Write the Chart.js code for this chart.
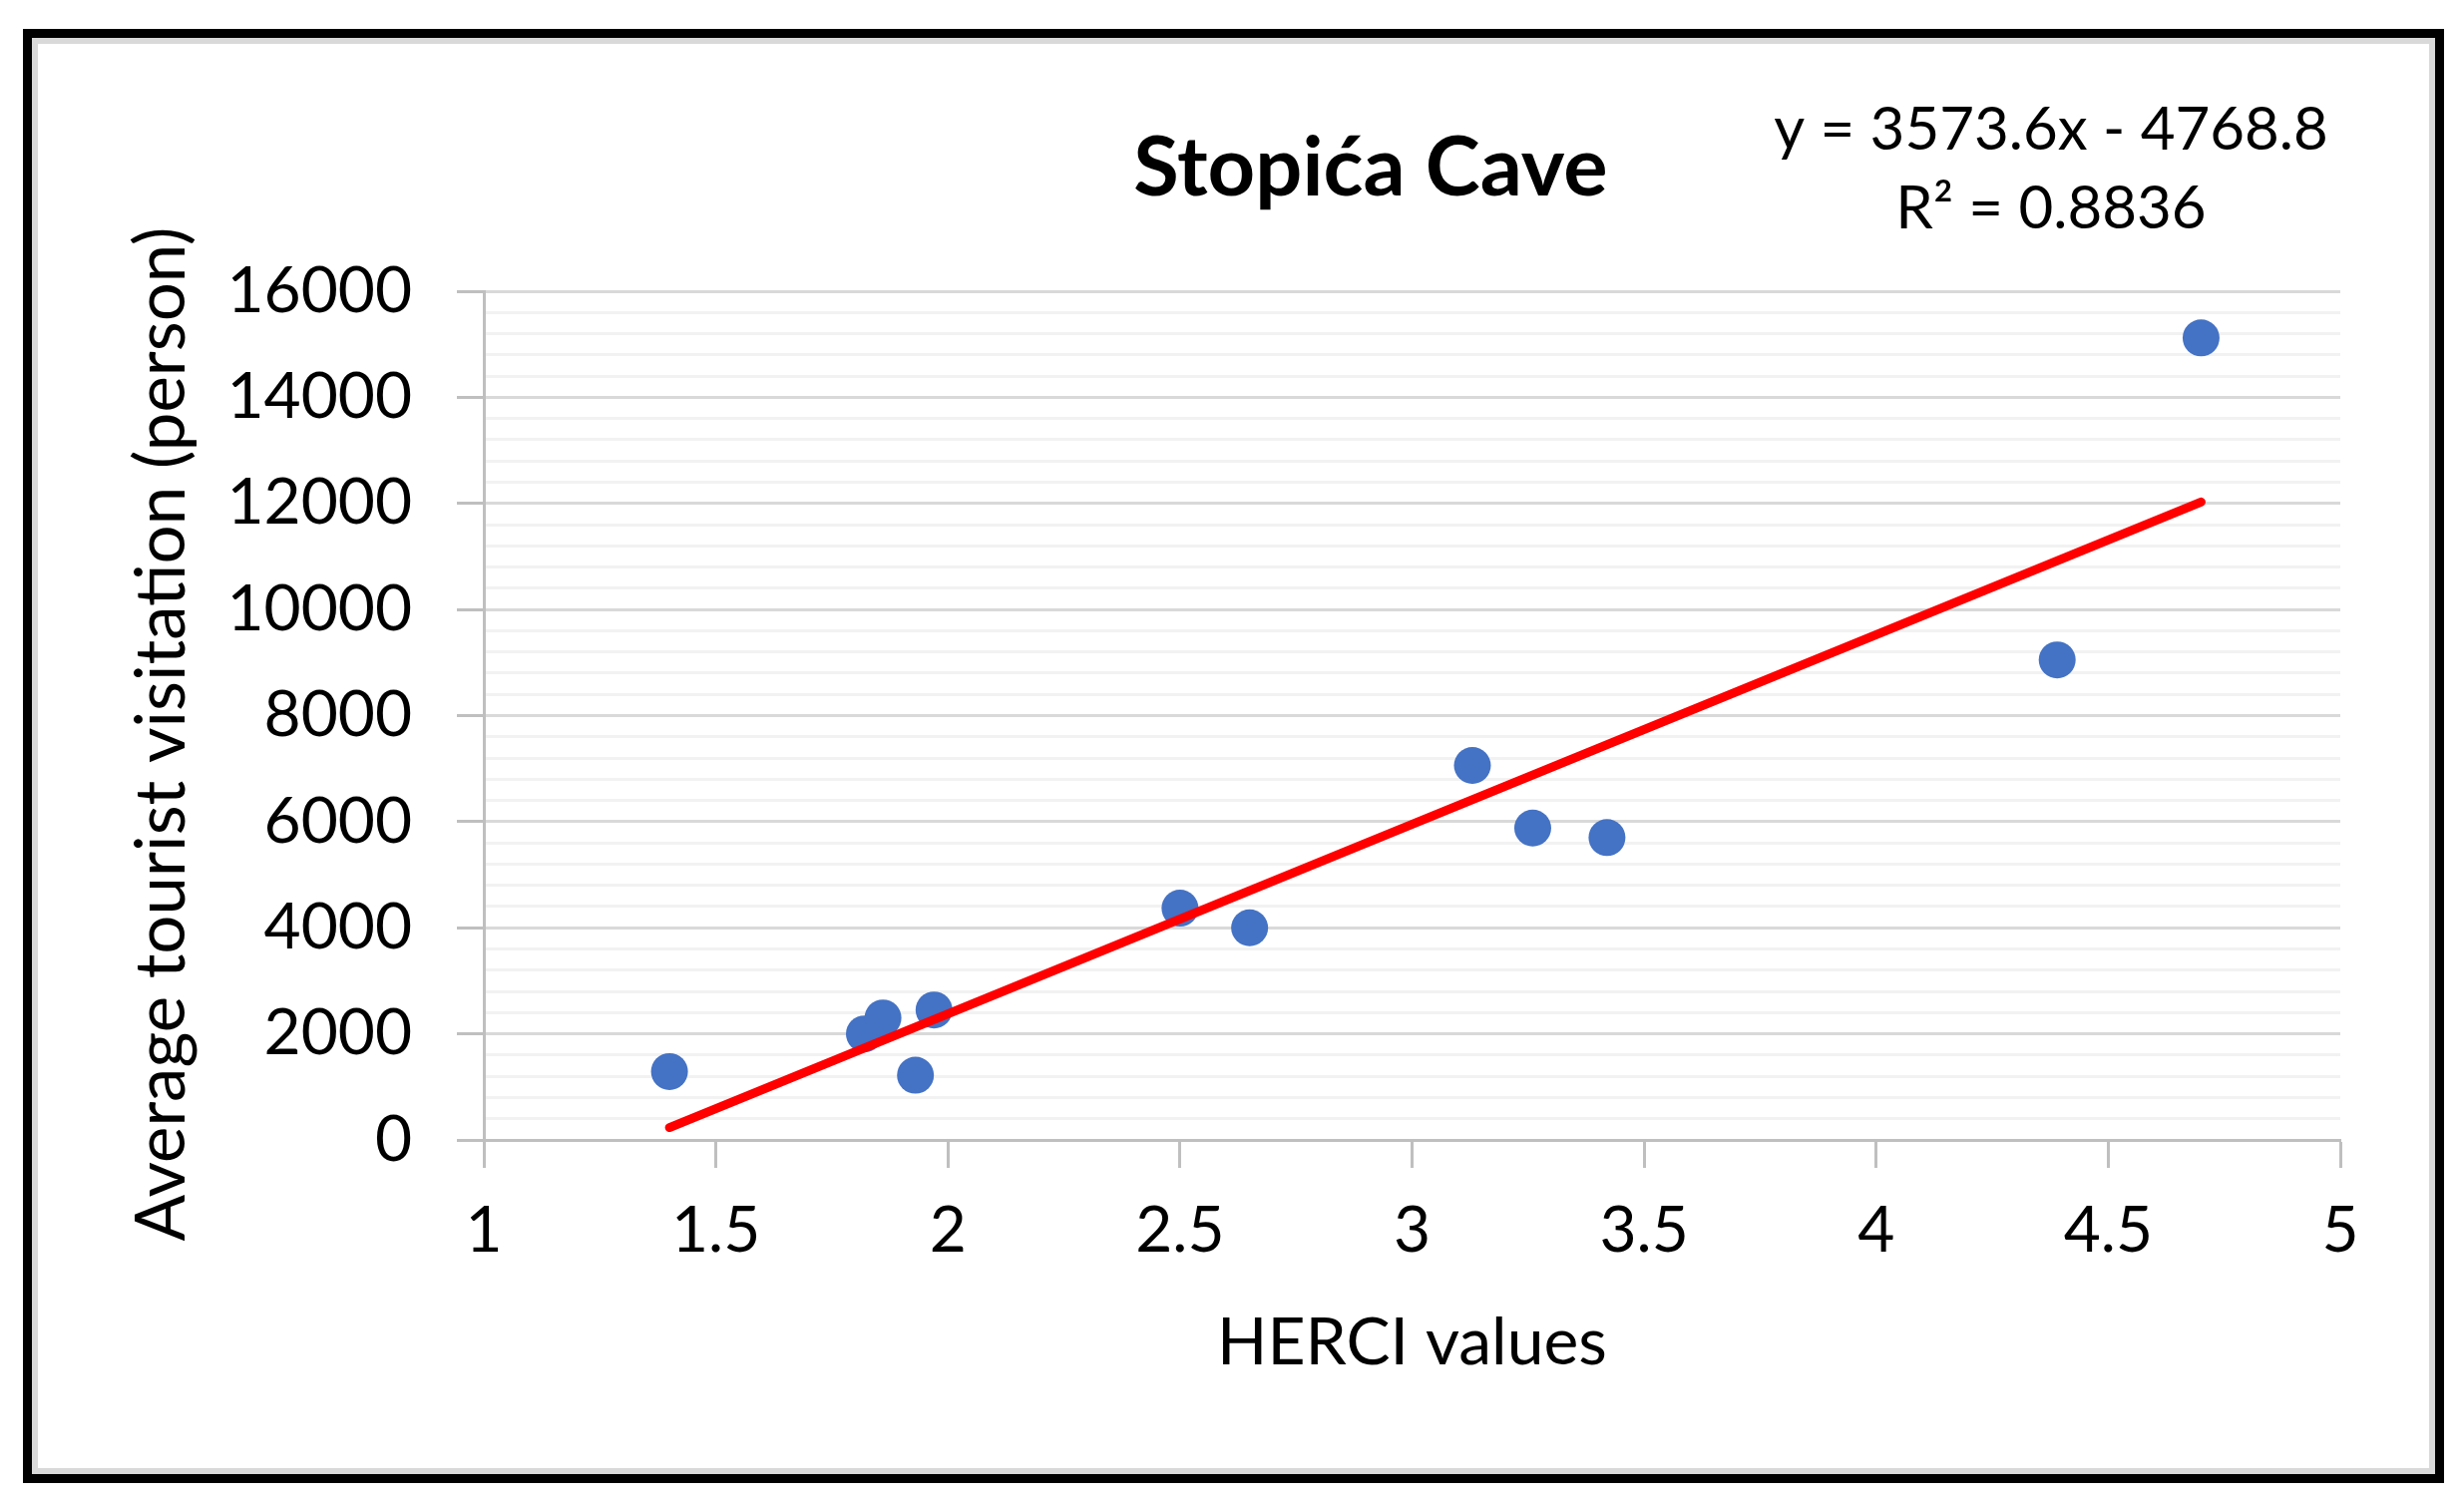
<!DOCTYPE html>
<html>
<head>
<meta charset="utf-8">
<script src="https://cdn.jsdelivr.net/npm/chart.js@4.4.1/dist/chart.umd.min.js"></script>
<style>
  html, body { margin: 0; padding: 0; background: #fff; }
  #frame { position: absolute; left: 23px; top: 29px; width: 2427px; height: 1458px; box-sizing: border-box; border: 9px solid #000; }
  #inner { width: 100%; height: 100%; box-sizing: border-box; border: 6px solid #d9d9d9; background: #fff; }
  canvas { display: block; }
</style>
</head>
<body>
<div id="frame"><div id="inner"><canvas id="myChart" width="2397" height="1428"></canvas></div></div>
<script>
// HERCI value and average visitors for each point
const herciValues = [1.40, 1.82, 1.86, 1.93, 1.97, 2.50, 2.65, 3.13, 3.26, 3.42, 4.39, 4.70];
const visitors = [1290, 2000, 2300, 1220, 2450, 4370, 4000, 7060, 5880, 5700, 9050, 15120];

const xTickLabels = ["1", "1.5", "2", "2.5", "3", "3.5", "4", "4.5", "5"];
const yTickLabels = [0, 2000, 4000, 6000, 8000, 10000, 12000, 14000, 16000];

// linear trendline shown on the chart
const trendSlope = 3573.6;
const trendIntercept = -4768.8;
const equationLines = ["y = 3573.6x - 4768.8", "R\u00b2 = 0.8836"];
const chartTitle = "Stopića Cave";
const yTitle = "Average tourist visitation (person)";

const points = herciValues.map(function (h, i) { return { x: h, y: visitors[i] }; });
const xMin = Math.min.apply(null, herciValues);
const xMax = Math.max.apply(null, herciValues);
const trend = [
  { x: xMin, y: trendSlope * xMin + trendIntercept },
  { x: xMax, y: trendSlope * xMax + trendIntercept }
];

function isMajor(c) {
  return c.tick && Math.round(c.tick.value) % 2000 === 0;
}

// title, trendline equation and the y axis title
const chartText = {
  id: "chartText",
  afterDraw(chart) {
    const ctx = chart.ctx;
    ctx.save();
    ctx.fillStyle = "#000";
    ctx.textAlign = "center";
    ctx.textBaseline = "alphabetic";
    ctx.font = "bold 83px Lato";
    ctx.fillText(chartTitle, 1336, 152);
    ctx.font = "60px Lato";
    ctx.fillText(equationLines[0], 2018, 106);
    ctx.fillText(equationLines[1], 2018, 185);
    ctx.translate(125, 692);
    ctx.rotate(-Math.PI / 2);
    ctx.textBaseline = "middle";
    ctx.font = "69px Lato";
    ctx.fillText(yTitle, 0, 0);
    ctx.restore();
  }
};

Chart.defaults.font.family = "Lato";

new Chart("myChart", {
  type: "scatter",
  data: {
    datasets: [{
      label: "trend",
      data: trend,
      showLine: true,
      borderColor: "#ff0000",
      borderWidth: 9,
      borderCapStyle: "round",
      pointRadius: 0,
      order: 0
    }, {
      label: "visitation",
      data: points,
      backgroundColor: "#4472c4",
      borderWidth: 0,
      pointRadius: 18.5,
      pointHoverRadius: 18.5,
      order: 1
    }]
  },
  options: {
    responsive: false,
    devicePixelRatio: 1,
    animation: false,
    layout: { padding: { left: 40, right: 89, top: 248, bottom: 49 } },
    plugins: {
      legend: { display: false },
      tooltip: { enabled: false }
    },
    scales: {
      x: {
        type: "linear",
        min: 1,
        max: 5,
        afterFit(s) { s.height = 280; },
        ticks: {
          stepSize: 0.5,
          autoSkip: false,
          maxRotation: 0,
          padding: 25,
          color: "#000",
          font: { size: 64 },
          callback: function (v, i) { return xTickLabels[i]; }
        },
        grid: { drawOnChartArea: false, drawTicks: true, tickLength: 28, tickColor: "#bfbfbf", tickWidth: 3 },
        border: { color: "#bfbfbf", width: 3 },
        title: { display: true, text: "HERCI values", color: "#000", font: { size: 66 }, padding: { top: 0, bottom: 37 } }
      },
      y: {
        min: 0,
        max: 16000,
        afterFit(s) { s.width = 407; },
        ticks: {
          stepSize: 400,
          autoSkip: false,
          padding: 45,
          color: "#000",
          font: { size: 64 },
          callback: function (v) { return yTickLabels.indexOf(Math.round(v)) >= 0 ? String(Math.round(v)) : ""; }
        },
        grid: {
          color: function (c) { return isMajor(c) ? "#d9d9d9" : "#f2f2f2"; },
          lineWidth: 3,
          tickLength: 27,
          tickWidth: 3,
          tickColor: function (c) { return isMajor(c) ? "#bfbfbf" : "rgba(0,0,0,0)"; }
        },
        border: { color: "#bfbfbf", width: 3 }
      }
    }
  },
  plugins: [chartText]
});
</script>
</body>
</html>
